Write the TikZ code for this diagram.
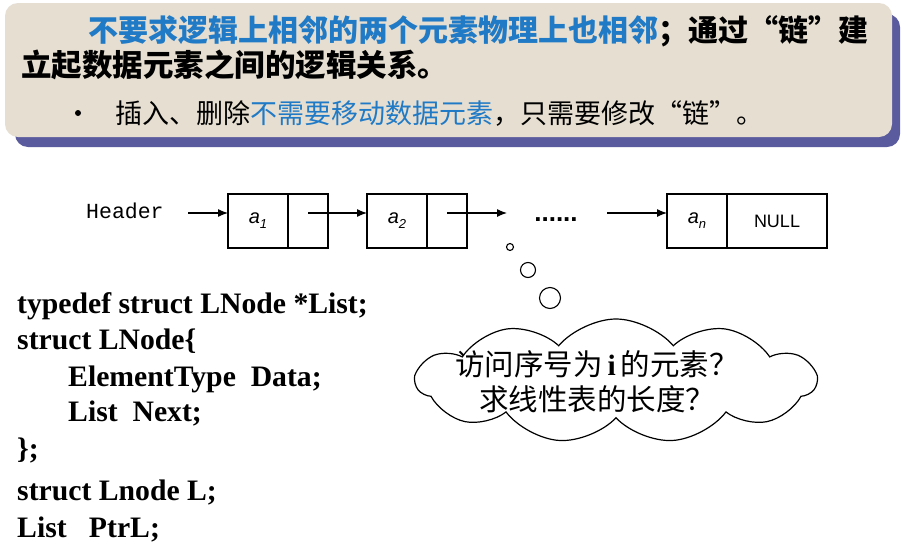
\documentclass[tikz,border=0pt]{standalone}
\usepackage{fontspec}
\setmainfont{Liberation Serif}
\setsansfont{Liberation Sans}
\setmonofont{Liberation Mono}
\newfontfamily\cjk{Noto Sans CJK SC}
\usetikzlibrary{arrows.meta,shapes.symbols}
\definecolor{bannerbg}{RGB}{229,222,209}
\definecolor{bannershadow}{RGB}{90,90,158}
\definecolor{hlblue}{RGB}{32,122,198}
\newcommand{\elem}[1]{{\sffamily\itshape\fontsize{20}{22}\selectfont a\raisebox{-0.25em}{\fontsize{13}{14}\selectfont #1}}}
\tikzset{
  cell/.style={draw, line width=1.2pt, minimum height=54pt, inner sep=0pt, outer sep=0pt, anchor=west},
  arr/.style={line width=1.2pt, -{Latex[length=10pt,width=8pt]}},
  bubble/.style={circle, draw, line width=1.1pt, inner sep=0pt},
  code/.style={anchor=base west, inner sep=0pt, font=\bfseries\fontsize{29.7}{32}\selectfont},
  question/.style={anchor=base, inner sep=0pt, font=\cjk\fontsize{29.5}{31}\selectfont},
}
\begin{document}
\begin{tikzpicture}[x=1pt,y=-1pt]
\useasboundingbox (0,0) rectangle (907,557);
\fill[white] (0,0) rectangle (907,557);

% banner with its shadow
\fill[bannershadow, rounded corners=13pt] (15,14) rectangle (900,147);
\fill[bannerbg, rounded corners=13pt] (5,3) rectangle (892,137);
\node[anchor=base west, inner sep=0pt, font=\cjk\bfseries\fontsize{30}{32}\selectfont] (line1) at (88,41)
  {\textcolor{hlblue}{不要求逻辑上相邻的两个元素物理上也相邻}；通过“链”建};
\node[anchor=base west, inner sep=0pt, font=\cjk\bfseries\fontsize{30.5}{32}\selectfont] (line2) at (21,76)
  {立起数据元素之间的逻辑关系。};
\node[circle, fill=black, inner sep=0pt, minimum size=6pt] (bullet) at (78,113) {};
\node[anchor=base west, inner sep=0pt, font=\cjk\fontsize{27}{28}\selectfont] (line3) at (115,123)
  {插入、删除\textcolor{hlblue}{不需要移动数据元素}，只需要修改“链”。};

% linked list
\node[anchor=base west, inner sep=0pt, font=\ttfamily\fontsize{21.5}{23}\selectfont] (hdr) at (86,218) {Header};
\node[cell, minimum width=60pt] (d1) at (228,221) {\elem{1}};
\node[cell, minimum width=40pt] (p1) at (d1.east) {};
\node[cell, minimum width=60pt] (d2) at (367,221) {\elem{2}};
\node[cell, minimum width=40pt] (p2) at (d2.east) {};
\node[cell, minimum width=60pt] (dn) at (667,221) {\elem{n}};
\node[cell, minimum width=100pt, font=\sffamily\fontsize{18}{20}\selectfont] (pn) at (dn.east) {NULL};
\node[anchor=base, inner sep=0pt, font=\sffamily\bfseries\fontsize{26}{28}\selectfont] (dots) at (556,221) {......};
\coordinate (hstart) at (188,213);
\coordinate (a3end) at (507,213);
\coordinate (a4start) at (607,213);
\draw[arr] (hstart) -- (hstart -| d1.west);
\draw[arr] (p1.center |- hstart) -- (hstart -| d2.west);
\draw[arr] (p2.center |- hstart) -- (a3end);
\draw[arr] (a4start) -- (a4start -| dn.west);

% thought bubbles and cloud
\node[bubble, minimum size=7pt] (b1) at (510,247) {};
\node[bubble, minimum size=15pt] (b2) at (528,270) {};
\node[bubble, minimum size=21pt] (b3) at (550,298) {};
\node[cloud, draw, line width=1.2pt, cloud puffs=11, cloud puff arc=100, aspect=3.3,
      minimum width=400pt, minimum height=124pt, inner sep=0pt] (cloud) at (616,381) {};
\node[question] (q1) at (597,375)
  {访问序号为\hspace{5pt}{\rmfamily\bfseries i}\hspace{5pt}的元素？};
\node[question] (q2) at (597,410)
  {求线性表的长度？};

% declarations
\node[code] (c1) at (17,313) {typedef struct LNode *List;};
\node[code] (c2) at (17,349) {struct LNode\{};
\node[code] (c3) at (68,386) {ElementType\ \ Data;};
\node[code] (c4) at (68,421) {List\ \ Next;};
\node[code] (c5) at (17,458) {\};};
\node[code] (c6) at (17,500) {struct Lnode L;};
\node[code] (c7) at (17,537) {List\ \ \ PtrL;};
\end{tikzpicture}
\end{document}
